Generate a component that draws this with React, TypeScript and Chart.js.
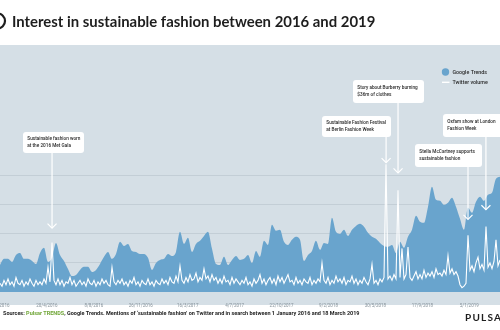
import React, { useEffect, useRef } from "react";
import { Chart, registerables } from "chart.js";
Chart.register(...registerables);

// ---- DATA ----
const TOTAL_DAYS = 1172; // 1 Jan 2016 -> 18 Mar 2019
const titleText = "Interest in sustainable fashion between 2016 and 2019";
const seriesNames = ["Google Trends", "Twitter volume"];

// Google Trends interest, evenly sampled across the period
const googleTrends = [
  18.6, 22.8, 22.8, 20.7, 25.5, 26.9, 22.8, 22.8, 21.4, 19.3,
  26.9, 30.4, 20.7, 23.5, 33.8, 25.5, 21.4, 15.9, 11, 11.7,
  15.2, 17.3, 17.3, 13.8, 15.2, 19.3, 24.2, 27.6, 22.8, 26.2,
  34.5, 31.7, 33.1, 28.3, 27.6, 26.2, 26.2, 23.5, 15.2, 20,
  22.1, 22.8, 26.2, 24.8, 27.6, 41.4, 33.1, 37.3, 27.6, 33.1,
  35.2, 38.6, 41.4, 29.7, 19.3, 18.6, 24.2, 18.6, 22.1, 24.8,
  22.1, 22.8, 25.5, 20, 28.3, 24.2, 35.2, 32.4, 46.2, 42.1,
  42.8, 34.5, 32.4, 35.9, 38, 35.9, 21.4, 25.5, 28.3, 35.2,
  29, 33.8, 33.1, 51.1, 41.4, 40, 42.8, 38.6, 42.8, 45.5,
  46.9, 44.9, 40.7, 38, 36.6, 33.8, 31.7, 31.1, 32.4, 26.9,
  34.5, 30.4, 38, 42.8, 52.4, 48.3, 47.6, 58.7, 72.5, 63.5,
  62.8, 60, 61.4, 64.9, 58.7, 50.4, 42.8, 58, 54.5, 62.1,
  65.6, 62.8, 66.9, 68.3, 78, 79.4,
];

// Twitter volume, evenly sampled across the period
const twitterVolume = [
  6, 4, 8, 5, 9, 5, 7, 4, 10, 6,
  5, 8, 4, 7, 5, 9, 6, 4, 8, 5,
  7, 5, 9, 6, 17, 7, 34, 8, 5, 9,
  5, 8, 4, 7, 6, 10, 5, 8, 4, 6,
  8, 5, 7, 4, 9, 6, 5, 8, 4, 7,
  5, 9, 6, 8, 5, 4, 17, 7, 5, 8,
  6, 9, 5, 7, 4, 8, 6, 10, 5, 7,
  4, 8, 6, 5, 9, 5, 7, 4, 8, 6,
  5, 9, 6, 8, 5, 10, 7, 6, 11, 7,
  18, 8, 6, 10, 7, 12, 8, 9, 13, 7,
  10, 8, 16, 9, 11, 7, 12, 8, 10, 6,
  9, 6, 11, 7, 8, 5, 10, 6, 9, 7,
  5, 8, 6, 10, 5, 7, 4, 9, 6, 8,
  12, 6, 9, 5, 8, 10, 6, 9, 5, 11,
  7, 10, 6, 9, 12, 7, 8, 5, 10, 6,
  8, 5, 9, 7, 6, 10, 5, 8, 6, 9,
  7, 20, 8, 6, 10, 5, 8, 6, 11, 7,
  9, 6, 10, 5, 8, 7, 11, 6, 9, 5,
  8, 6, 10, 7, 5, 9, 19, 6, 8, 5,
  9, 7, 10, 88, 9, 11, 8, 12, 9, 70,
  10, 30, 9, 12, 31, 10, 8, 11, 14, 9,
  12, 9, 15, 10, 13, 11, 14, 10, 16, 12,
  13, 11, 15, 12, 25, 13, 16, 12, 14, 11,
  5, 3, 4, 6, 39, 15, 18, 14, 20, 24,
  16, 19, 15, 45, 17, 20, 16, 21, 36, 18, 22,
];

const tickDays = [0, 110, 220, 330, 440, 550, 660, 770, 880, 990, 1100];
const tickLabels = [
  "1/1/2016", "20/4/2016", "8/8/2016", "26/11/2016", "16/3/2017", "4/7/2017",
  "22/10/2017", "9/2/2018", "30/5/2018", "17/9/2018", "5/1/2019",
];

const eventDays = [122, 905, 933, 1097, 1139];
const eventTipValues = [44, 89, 82, 50, 56.6];
const eventTexts = [
  ["Sustainable fashion worn", "at the 2016 Met Gala"],
  ["Sustainable Fashion Festival", "at Berlin Fashion Week"],
  ["Story about Burberry burning", "$36m of clothes"],
  ["Stella McCartney supports", "sustainable fashion"],
  ["Oxfam show at London", "Fashion Week"],
];

const sourceParts = [
  { t: "Sources: ", c: "#1e1e1e" },
  { t: "Pulsar TRENDS", c: "#6fa536" },
  { t: ", Google Trends. Mentions of \u2018sustainable fashion\u2019 on Twitter and in search between 1 January 2016 and 18 March 2019", c: "#1e1e1e" },
];

// ---- STYLE / LAYOUT ----
const BG = "#d5dfe6";
const BLUE = "#69a4cd";
const GRID = "#c3ced6";
const DARK = "#1e1e1e";
const BOXES = [
  { x: 23, y: 132, w: 61, h: 21 },
  { x: 322, y: 116, w: 69, h: 21 },
  { x: 353, y: 80, w: 71, h: 23 },
  { x: 415, y: 144, w: 67, h: 23 },
  { x: 443, y: 114, w: 62, h: 23 },
];

const decor = {
  id: "decor",
  beforeDraw(chart: any) {
    const c = chart.ctx;
    c.save();
    c.fillStyle = "#ffffff";
    c.fillRect(0, 0, 500, 330);
    c.fillStyle = BG;
    c.fillRect(0, 45, 500, 260);
    c.restore();
  },
  afterDraw(chart: any) {
    const c = chart.ctx;
    const xs = chart.scales.x;
    const ys = chart.scales.y;
    c.save();
    // logo arc
    c.strokeStyle = DARK;
    c.lineWidth = 2.2;
    c.beginPath();
    c.arc(-2.5, 21, 7.5, -Math.PI / 2, Math.PI / 2);
    c.stroke();
    // title
    c.fillStyle = DARK;
    c.font = "700 14.9px Lato";
    c.textBaseline = "middle";
    c.textAlign = "left";
    c.fillText(titleText, 12, 22);

    // legend
    c.fillStyle = BLUE;
    c.beginPath();
    c.arc(445.5, 72, 3.7, 0, Math.PI * 2);
    c.fill();
    c.strokeStyle = "#ffffff";
    c.lineWidth = 1.4;
    c.beginPath();
    c.moveTo(442, 82.3);
    c.lineTo(449.5, 82.3);
    c.stroke();
    c.fillStyle = "#2a2a2a";
    c.font = "500 5.3px Roboto";
    c.fillText(seriesNames[0], 452.5, 72.3);
    c.fillText(seriesNames[1], 452.5, 82.5);

    // callouts
    eventDays.forEach((d, i) => {
      const px = xs.getPixelForValue(d);
      const tip = ys.getPixelForValue(eventTipValues[i]);
      const b = BOXES[i];
      c.strokeStyle = "#ffffff";
      c.lineWidth = 1.2;
      c.beginPath();
      c.moveTo(px, b.y + b.h);
      c.lineTo(px, tip);
      c.stroke();
      c.beginPath();
      c.moveTo(px - 4.5, tip - 4.5);
      c.lineTo(px, tip);
      c.lineTo(px + 4.5, tip - 4.5);
      c.stroke();
      c.fillStyle = "#ffffff";
      c.beginPath();
      c.roundRect(b.x, b.y, b.w, b.h, 3);
      c.fill();
      c.fillStyle = "#2a2a2a";
      c.font = "500 4.7px Roboto";
      const mid = b.y + b.h / 2;
      c.fillText(eventTexts[i][0], b.x + 4.3, mid - 3.2);
      c.fillText(eventTexts[i][1], b.x + 4.3, mid + 3.1);
    });

    // sources
    let sx = 3;
    c.font = "700 5.5px Roboto";
    sourceParts.forEach((p) => {
      c.fillStyle = p.c;
      c.fillText(p.t, sx, 314);
      sx += c.measureText(p.t).width;
    });
    // brand
    c.fillStyle = DARK;
    c.font = "700 10px Lato";
    (c as any).letterSpacing = "1.2px";
    c.fillText("PULSAR", 465, 317.5);
    c.restore();
  },
};

export default function App() {
  const ref = useRef<HTMLCanvasElement | null>(null);
  useEffect(() => {
    if (!ref.current) return;
    const trendStep = TOTAL_DAYS / (googleTrends.length - 1);
    const twStep = TOTAL_DAYS / (twitterVolume.length - 1);
    const chart = new Chart(ref.current, {
      type: "line",
      data: {
        datasets: [
          {
            label: seriesNames[1],
            data: twitterVolume.map((v, i) => ({ x: i * twStep, y: v })),
            borderColor: "#ffffff",
            borderWidth: 1.1,
            pointRadius: 0,
            fill: false,
            tension: 0,
          },
          {
            label: seriesNames[0],
            data: googleTrends.map((v, i) => ({ x: i * trendStep, y: v })),
            borderWidth: 0,
            borderColor: BLUE,
            backgroundColor: BLUE,
            pointRadius: 0,
            fill: "origin",
            cubicInterpolationMode: "monotone",
          },
        ],
      },
      options: {
        responsive: false,
        animation: false,
        layout: { padding: { top: 45, left: 0, right: 0, bottom: 0 } },
        plugins: { legend: { display: false }, tooltip: { enabled: false }, title: { display: false } },
        scales: {
          x: {
            type: "linear",
            min: 0,
            max: TOTAL_DAYS,
            grid: { display: false },
            border: { display: false },
            afterBuildTicks: (s: any) => {
              s.ticks = tickDays.map((v) => ({ value: v }));
            },
            afterFit: (s: any) => {
              s.height = 38;
              s.paddingLeft = 0;
              s.paddingRight = 0;
            },
            ticks: {
              autoSkip: false,
              maxRotation: 0,
              padding: 3,
              color: "#86929a",
              font: { family: "Roboto", size: 4.5 },
              callback: (_v: any, i: number) => tickLabels[i],
            },
          },
          y: {
            min: 0,
            max: 170,
            border: { display: false },
            afterFit: (s: any) => {
              s.width = 0;
            },
            ticks: { display: false, stepSize: 20 },
            grid: {
              drawTicks: false,
              lineWidth: 1,
              color: (ctx: any) => {
                const v = ctx.tick && ctx.tick.value;
                return v >= 20 && v <= 80 ? GRID : "rgba(0,0,0,0)";
              },
            },
          },
        },
      },
      plugins: [decor],
    });
    return () => chart.destroy();
  }, []);
  return (
    <div style={{ position: "fixed", left: 0, top: 0, width: 500, height: 330, background: "#fff" }}>
      <canvas ref={ref} width={500} height={330} style={{ display: "block" }} />
    </div>
  );
}
